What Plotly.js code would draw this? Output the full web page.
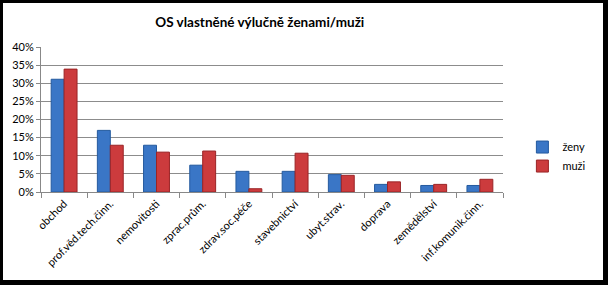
<!DOCTYPE html>
<html><head><meta charset="utf-8">
<script src="https://cdn.plot.ly/plotly-3.0.1.min.js"></script>
<style>
html,body{margin:0;padding:0;background:#000;width:608px;height:285px;overflow:hidden;}
#chart{position:absolute;left:3px;top:3px;width:600px;height:277px;background:#fff;}
</style></head>
<body><div id="chart"></div>
<script>
const categories = ["obchod","prof.věd.tech.činn.","nemovitosti","zprac.prům.","zdrav.soc.péče","stavebnictví","ubyt.strav.","doprava","zemědělství","inf.komunik.činn."];
const zeny = [0.311, 0.170, 0.129, 0.074, 0.057, 0.057, 0.048, 0.021, 0.018, 0.018];
const muzi = [0.339, 0.129, 0.110, 0.113, 0.009, 0.107, 0.046, 0.028, 0.021, 0.035];
const yTicks = [0,0.05,0.10,0.15,0.20,0.25,0.30,0.35,0.40];

const font = "Lato, 'Open Sans', sans-serif";
const data = [
  {type:"bar", name:"ženy", x:categories, y:zeny,
   marker:{color:"#3a76c6", line:{color:"#245a9e", width:1}}},
  {type:"bar", name:"muži", x:categories, y:muzi,
   marker:{color:"#cc3b3d", line:{color:"#9a2426", width:1}}}
];
const layout = {
  width:600, height:277,
  margin:{l:38, r:65, t:44, b:88},
  paper_bgcolor:"#fff", plot_bgcolor:"#fff",
  font:{family:font, size:11, color:"#000"},
  title:{text:"<b>OS vlastněné výlučně ženami/muži</b>", font:{family:font, size:13.5, color:"#000"},
         x:0.428, xanchor:"center", y:0.931, yanchor:"middle"},
  barmode:"group", bargap:0.44, bargroupgap:0,
  showlegend:true,
  legend:{x:1.042, xanchor:"left", y:0.41, yanchor:"top", font:{family:font, size:11},
          itemwidth:30, tracegroupgap:4, bgcolor:"rgba(0,0,0,0)"},
  xaxis:{type:"category", tickangle:-45, showline:true, linecolor:"#888", linewidth:1,
         ticks:"outside", ticklen:5, tickcolor:"#888", tickson:"boundaries",
         showgrid:false, tickfont:{family:font, size:11}, fixedrange:true},
  yaxis:{range:[0,0.40], tickvals:yTicks, tickformat:".0%", showline:true, linecolor:"#888",
         linewidth:1, ticks:"outside", ticklen:4, tickcolor:"#888", showgrid:true,
         gridcolor:"#8c8c8c", gridwidth:1, zeroline:false,
         tickfont:{family:font, size:11}, fixedrange:true}
};
Plotly.newPlot("chart", data, layout, {displayModeBar:false, staticPlot:true});
</script></body></html>
